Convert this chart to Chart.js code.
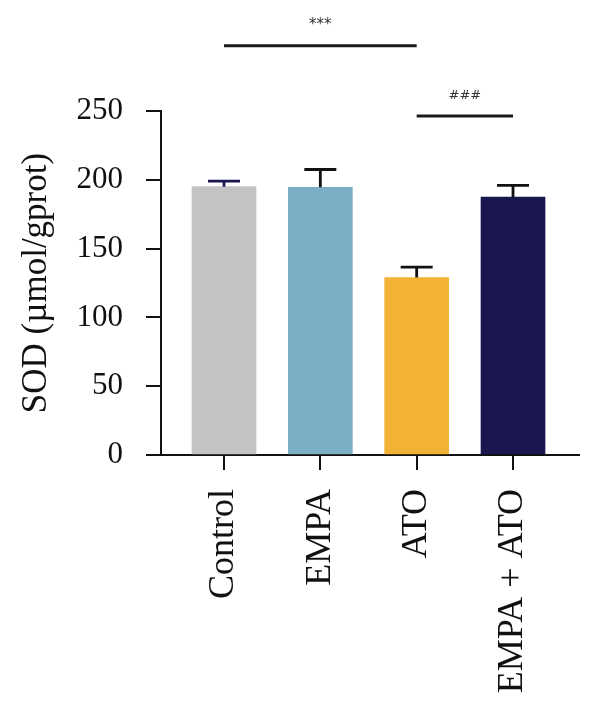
<!DOCTYPE html>
<html>
<head>
<meta charset="utf-8">
<script src="https://cdn.jsdelivr.net/npm/chart.js@4.4.1/dist/chart.umd.min.js"></script>
<style>
  html, body { margin: 0; padding: 0; background: #fff; }
  #wrap { width: 600px; height: 716px; }
</style>
</head>
<body>
<div id="wrap"><canvas id="chart"></canvas></div>
<script>
const categories = ['Control', 'EMPA', 'ATO', 'EMPA + ATO'];
const sodValues = [195, 194.5, 129, 187.5];
const sodErrors = [4, 13, 7.5, 8.5];
const barColors = ['#c3c3c3', '#7aafc5', '#f2b233', '#1a164f'];
const capColors = ['#1a164f', '#111111', '#111111', '#111111'];
const yTicks = [0, 50, 100, 150, 200, 250];
// significance brackets: from/to category index, height in axis units
const brackets = [
  { from: 0, to: 2, label: '***', lineAt: 297.5, textAt: 312.5, font: '15px "DejaVu Sans"' },
  { from: 2, to: 3, label: '###', lineAt: 246.4, textAt: 261, font: '13px "DejaVu Sans"' }
];

const SERIF = '"Liberation Serif", "Times New Roman", serif';

const extras = {
  id: 'extras',
  afterDatasetsDraw(chart) {
    const { ctx, scales: { x, y } } = chart;
    const meta = chart.getDatasetMeta(0);
    ctx.save();
    ctx.lineWidth = 2.8;
    meta.data.forEach((bar, i) => {
      const top = y.getPixelForValue(sodValues[i] + sodErrors[i]);
      const base = y.getPixelForValue(sodValues[i]);
      ctx.strokeStyle = capColors[i];
      ctx.beginPath();
      ctx.moveTo(bar.x, base);
      ctx.lineTo(bar.x, top);
      ctx.moveTo(bar.x - 16, top);
      ctx.lineTo(bar.x + 16, top);
      ctx.stroke();
    });
    brackets.forEach(b => {
      const x1 = x.getPixelForValue(b.from);
      const x2 = x.getPixelForValue(b.to);
      const ly = y.getPixelForValue(b.lineAt);
      ctx.strokeStyle = '#1a1a1a';
      ctx.lineWidth = 3;
      ctx.beginPath();
      ctx.moveTo(x1, ly);
      ctx.lineTo(x2, ly);
      ctx.stroke();
      ctx.fillStyle = '#333';
      ctx.font = b.font;
      ctx.textAlign = 'center';
      ctx.textBaseline = 'middle';
      ctx.fillText(b.label, (x1 + x2) / 2, y.getPixelForValue(b.textAt));
    });
    ctx.restore();
  }
};

new Chart(document.getElementById('chart'), {
  type: 'bar',
  data: {
    datasets: [{
      data: sodValues.map((v, i) => ({ x: i, y: v })),
      backgroundColor: barColors,
      borderWidth: 0,
      barThickness: 64
    }]
  },
  options: {
    responsive: true,
    maintainAspectRatio: false,
    animation: false,
    layout: { padding: { left: 0, top: 111, right: 21, bottom: 0 } },
    plugins: { legend: { display: false }, tooltip: { enabled: false } },
    scales: {
      x: {
        type: 'linear',
        offset: false,
        min: -0.654,
        max: 3.685,
        afterBuildTicks: (s) => { s.ticks = categories.map((c, i) => ({ value: i })); },
        afterFit: (s) => { s.height = 261; },
        grid: { display: true, offset: false, drawOnChartArea: false, tickLength: 15, lineWidth: 2, color: '#111' },
        border: { display: true, color: '#111', width: 2 },
        ticks: {
          autoSkip: false,
          minRotation: 90,
          maxRotation: 90,
          padding: 19,
          color: '#111',
          font: { family: SERIF, size: 36 },
          callback: (v) => categories[v]
        }
      },
      y: {
        min: 0,
        max: 250,
        afterBuildTicks: (s) => { s.ticks = yTicks.map(v => ({ value: v })); },
        afterFit: (s) => { s.width = 161; },
        grid: { display: true, drawOnChartArea: false, tickLength: 15, lineWidth: 2, color: '#111' },
        border: { display: true, color: '#111', width: 2 },
        ticks: { padding: 23, color: '#111', font: { family: SERIF, size: 31 } },
        title: {
          display: true,
          text: 'SOD (µmol/gprot)',
          color: '#111',
          font: { family: SERIF, size: 35 },
          padding: { top: 16, bottom: 0 }
        }
      }
    }
  },
  plugins: [extras]
});
</script>
</body>
</html>
